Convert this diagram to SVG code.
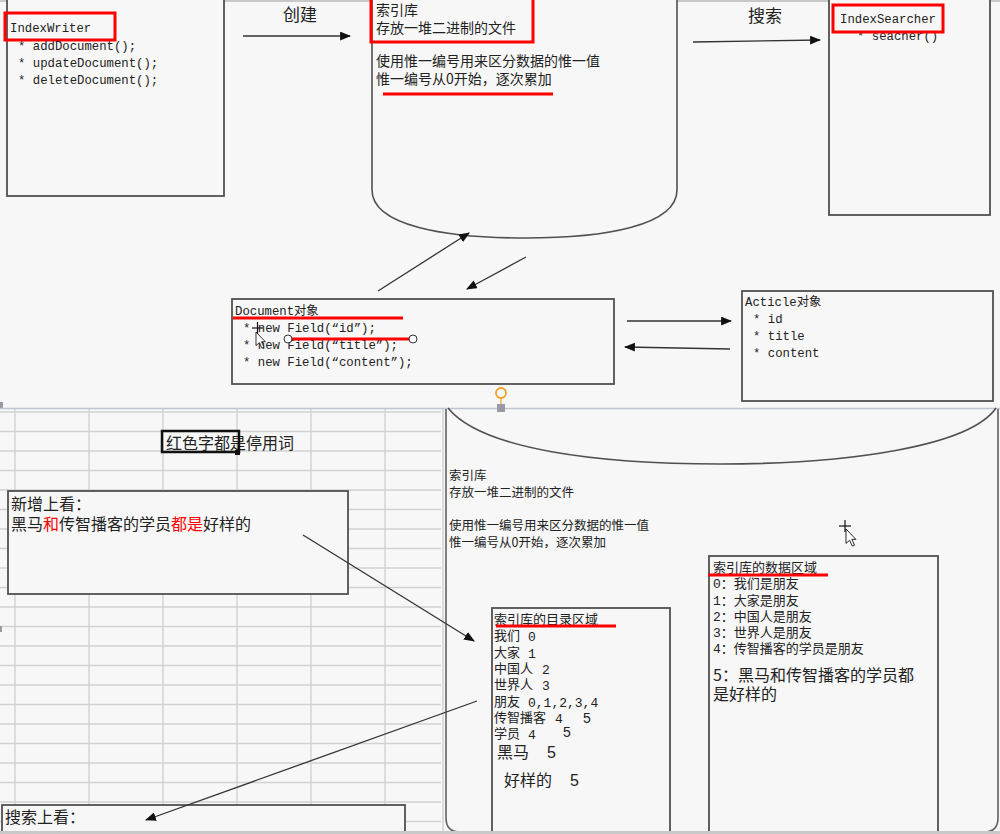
<svg xmlns="http://www.w3.org/2000/svg" width="1000" height="834" viewBox="0 0 1000 834">
  <style>
    .mono { font-family: "Liberation Mono", "Noto Sans CJK SC", monospace; fill: #222; }
    .cjk { font-family: "Noto Sans CJK SC", "Liberation Sans", sans-serif; fill: #222; }
    .num { font-family: "Liberation Sans", sans-serif; fill: #222; }
    .s12 { font-size: 12.3px; }
    .s125 { font-size: 12.5px; }
    .s13 { font-size: 13px; }
    .s14 { font-size: 14px; }
    .s16 { font-size: 16px; }
    .s17 { font-size: 17px; }
    .box { fill: #f7f7f7; stroke: #505050; stroke-width: 1.8; }
    .hl { fill: none; stroke: #ff0000; stroke-width: 3; }
    .redline { stroke: #ff0000; stroke-width: 3; }
    .conn { stroke: #333; stroke-width: 1.3; fill: none; marker-end: url(#tri); }
    .grid { stroke: #d2d2d2; stroke-width: 1.4; }
    .red { fill: #ff0000; }
  </style>
  <defs>
    <marker id="tri" viewBox="0 0 10 8" refX="9" refY="4" markerWidth="11" markerHeight="9" markerUnits="userSpaceOnUse" orient="auto">
      <path d="M0,0 L10,4 L0,8 Z" fill="#111"/>
    </marker>
    <g id="cursor">
      <path d="M0,0 L0,16 L4,12.5 L7,19 L9.5,18 L6.5,11.5 L11,11.5 Z" fill="#fff" stroke="#111" stroke-width="1"/>
    </g>
  </defs>

  <!-- background and frame lines -->
  <rect x="0" y="0" width="1000" height="834" fill="#f7f7f7"/>
  <line x1="0" y1="1" x2="1000" y2="1" stroke="#c8c8c8" stroke-width="2"/>

  <!-- spreadsheet grid, lower left -->
  <g id="grid">
    <g class="grid">
      <line x1="15" y1="409" x2="15" y2="834"/>
      <line x1="89" y1="409" x2="89" y2="834"/>
      <line x1="163" y1="409" x2="163" y2="834"/>
      <line x1="237" y1="409" x2="237" y2="834"/>
      <line x1="311" y1="409" x2="311" y2="834"/>
      <line x1="385" y1="409" x2="385" y2="834"/>
      <line x1="0" y1="412" x2="441" y2="412"/>
      <line x1="0" y1="431.5" x2="441" y2="431.5"/>
      <line x1="0" y1="451" x2="441" y2="451"/>
      <line x1="0" y1="470.5" x2="441" y2="470.5"/>
      <line x1="0" y1="490" x2="441" y2="490"/>
      <line x1="0" y1="509.5" x2="441" y2="509.5"/>
      <line x1="0" y1="529" x2="441" y2="529"/>
      <line x1="0" y1="548.5" x2="441" y2="548.5"/>
      <line x1="0" y1="568" x2="441" y2="568"/>
      <line x1="0" y1="587.5" x2="441" y2="587.5"/>
      <line x1="0" y1="607" x2="441" y2="607"/>
      <line x1="0" y1="626.5" x2="441" y2="626.5"/>
      <line x1="0" y1="646" x2="441" y2="646"/>
      <line x1="0" y1="665.5" x2="441" y2="665.5"/>
      <line x1="0" y1="685" x2="441" y2="685"/>
      <line x1="0" y1="704.5" x2="441" y2="704.5"/>
      <line x1="0" y1="724" x2="441" y2="724"/>
      <line x1="0" y1="743.5" x2="441" y2="743.5"/>
      <line x1="0" y1="763" x2="441" y2="763"/>
      <line x1="0" y1="782.5" x2="441" y2="782.5"/>
      <line x1="0" y1="802" x2="441" y2="802"/>
      <line x1="0" y1="821.5" x2="441" y2="821.5"/>
    </g>
    <rect x="0" y="402" width="3" height="6" fill="#9a9aa6"/>
    <rect x="0" y="626" width="2" height="6" fill="#9a9aa6"/>
  </g>

  <!-- divider between the two sheets -->
  <line x1="0" y1="408.5" x2="1000" y2="408.5" stroke="#c0c4cc" stroke-width="1.5"/>

  <!-- ===== upper sheet ===== -->
  <g id="index-writer">
    <rect class="box" x="7" y="-2" width="217" height="198"/>
    <rect class="hl" x="5" y="13" width="110" height="27"/>
    <text class="mono s12" x="10" y="32">IndexWriter</text>
    <text class="mono s12" x="18" y="50">* addDocument();</text>
    <text class="mono s12" x="18" y="67">* updateDocument();</text>
    <text class="mono s12" x="18" y="84">* deleteDocument();</text>
  </g>

  <g id="index-store">
    <path d="M372,-2 V190 C372,226 446,238 525,238 C604,238 677,226 677,190 V-2" fill="#f7f7f7" stroke="#505050" stroke-width="1.6"/>
    <rect class="hl" x="371" y="-3" width="162" height="45"/>
    <text class="cjk s14" x="376" y="15">索引库</text>
    <text class="cjk s14" x="376" y="33">存放一堆二进制的文件</text>
    <text class="cjk s14" x="376" y="66">使用惟一编号用来区分数据的惟一值</text>
    <text class="cjk s14" x="376" y="84">惟一编号从0开始，逐次累加</text>
    <line class="redline" x1="383" y1="94" x2="553" y2="94"/>
  </g>

  <g id="index-searcher">
    <rect class="box" x="829" y="-2" width="161" height="217"/>
    <text class="mono s12" x="857" y="40">* seacher()</text>
    <rect class="hl" x="833" y="5" width="110" height="27"/>
    <text class="mono s12" x="840" y="23">IndexSearcher</text>
  </g>

  <g id="document">
    <rect class="box" x="232" y="299" width="382" height="85"/>
    <text class="mono s12" x="235" y="315">Document对象</text>
    <line class="redline" x1="233" y1="318" x2="403" y2="318"/>
    <text class="mono s12" x="243" y="332">* new Field(“id”);</text>
    <text class="mono s12" x="243" y="349">* new Field(“title”);</text>
    <text class="mono s12" x="243" y="366">* new Field(“content”);</text>
    <line class="redline" x1="288" y1="339" x2="413" y2="339"/>
    <circle cx="288" cy="339" r="4" fill="#fff" stroke="#333" stroke-width="1"/>
    <circle cx="413" cy="339" r="4" fill="#fff" stroke="#333" stroke-width="1"/>
    <!-- move pointer -->
    <g stroke="#111" stroke-width="1.2">
      <line x1="252" y1="328" x2="263" y2="328"/>
      <line x1="257.5" y1="322" x2="257.5" y2="334"/>
    </g>
    <use href="#cursor" transform="translate(256,332) scale(0.85)"/>
    <!-- rotation handle -->
    <circle cx="501" cy="393" r="5" fill="none" stroke="#f0a020" stroke-width="1.8"/>
    <line x1="501" y1="398" x2="501" y2="404" stroke="#f0a020" stroke-width="1.2"/>
    <rect x="497" y="404" width="8" height="8" fill="#9a9aa6"/>
  </g>

  <g id="article">
    <rect class="box" x="742" y="291" width="251" height="110"/>
    <text class="mono s12" x="745" y="306">Acticle对象</text>
    <text class="mono s12" x="753" y="323">* id</text>
    <text class="mono s12" x="753" y="340">* title</text>
    <text class="mono s12" x="753" y="357">* content</text>
  </g>

  <!-- ===== lower sheet ===== -->
  <g id="stopword-note">
    <text class="cjk s16" x="166" y="449">红色字都是停用词</text>
    <rect x="162" y="431" width="77" height="21" fill="none" stroke="#111" stroke-width="2.5"/>
    <rect x="235" y="450" width="5" height="5" fill="#111"/>
  </g>

  <g id="add-view">
    <rect class="box" x="8" y="491" width="340" height="103"/>
    <text class="cjk s16" x="11" y="510">新增上看：</text>
    <text class="cjk s16" x="11" y="530">黑马<tspan class="red">和</tspan>传智播客的学员<tspan class="red">都是</tspan>好样的</text>
  </g>

  <g id="search-view">
    <rect class="box" x="2" y="805" width="403" height="40"/>
    <text class="cjk s16" x="5" y="823">搜索上看：</text>
  </g>

  <g id="index-store-body">
    <line x1="443" y1="409" x2="443" y2="834" stroke="#c0c0c0" stroke-width="1"/>
    <path d="M446,409 V818 Q446,832 460,832" fill="none" stroke="#606060" stroke-width="1.6"/>
    <path d="M998,409 V818 Q998,832 984,832" fill="none" stroke="#606060" stroke-width="1.6"/>
    <path d="M448,408 C482,450 600,464 720,464 C850,464 970,446 996,408" fill="none" stroke="#505050" stroke-width="1.6"/>
    <text class="cjk s125" x="449" y="480">索引库</text>
    <text class="cjk s125" x="449" y="497">存放一堆二进制的文件</text>
    <text class="cjk s125" x="449" y="530">使用惟一编号用来区分数据的惟一值</text>
    <text class="cjk s125" x="449" y="547">惟一编号从0开始，逐次累加</text>
    <g stroke="#111" stroke-width="1.2">
      <line x1="839" y1="526" x2="851" y2="526"/>
      <line x1="845" y1="520" x2="845" y2="532"/>
    </g>
    <use href="#cursor" transform="translate(846,529) scale(0.9)"/>
  </g>

  <g id="catalog-area">
    <rect class="box" x="492" y="608" width="178" height="232"/>
    <text class="cjk s13" x="494" y="624">索引库的目录区域</text>
    <line class="redline" x1="496" y1="626" x2="616" y2="626"/>
    <text class="cjk s13" x="494" y="640">我们</text><text class="mono s13" x="528" y="641">0</text>
    <text class="cjk s13" x="494" y="657">大家</text><text class="mono s13" x="528" y="658">1</text>
    <text class="cjk s13" x="494" y="673">中国人</text><text class="mono s13" x="542" y="674">2</text>
    <text class="cjk s13" x="494" y="689">世界人</text><text class="mono s13" x="542" y="690">3</text>
    <text class="cjk s13" x="494" y="706">朋友</text><text class="mono s13" x="528" y="707">0,1,2,3,4</text>
    <text class="cjk s13" x="494" y="722">传智播客</text><text class="mono s13" x="555" y="723">4</text>
    <text class="num s14" x="583" y="723">5</text>
    <text class="cjk s13" x="494" y="738">学员</text><text class="mono s13" x="528" y="739">4</text>
    <text class="num s14" x="563" y="737">5</text>
    <text class="cjk s16" x="497" y="758">黑马</text><text class="num s16" x="547" y="758">5</text>
    <text class="cjk s16" x="504" y="786">好样的</text><text class="num s16" x="570" y="786">5</text>
  </g>

  <g id="data-area">
    <rect class="box" x="709" y="556" width="229" height="284"/>
    <text class="cjk s13" x="713" y="572">索引库的数据区域</text>
    <line class="redline" x1="708" y1="575" x2="828" y2="575"/>
    <text class="mono s13" x="713" y="588">0：我们是朋友</text>
    <text class="mono s13" x="713" y="605">1：大家是朋友</text>
    <text class="mono s13" x="713" y="621">2：中国人是朋友</text>
    <text class="mono s13" x="713" y="637">3：世界人是朋友</text>
    <text class="mono s13" x="713" y="653">4：传智播客的学员是朋友</text>
    <text class="cjk s16" x="713" y="681">5：黑马和传智播客的学员都</text>
    <text class="cjk s16" x="713" y="700">是好样的</text>
  </g>

  <!-- labels on the flow arrows -->
  <g id="labels">
    <text class="cjk s17" x="283" y="21" fill="#333">创建</text>
    <text class="cjk s17" x="748" y="22" fill="#333">搜索</text>
  </g>

  <g id="connectors">
    <line class="conn" x1="243" y1="36" x2="350" y2="36"/>
    <line class="conn" x1="693" y1="42" x2="820" y2="40"/>
    <line class="conn" x1="378" y1="291" x2="469" y2="233"/>
    <line class="conn" x1="526" y1="257" x2="467" y2="289"/>
    <line class="conn" x1="627" y1="321" x2="731" y2="321"/>
    <line class="conn" x1="730" y1="349" x2="625" y2="347"/>
    <line class="conn" x1="303" y1="535" x2="474" y2="641"/>
    <line class="conn" x1="477" y1="701" x2="146" y2="820"/>
  </g>

  <rect x="0" y="831" width="1000" height="3" fill="#c8c8c8"/>
</svg>
